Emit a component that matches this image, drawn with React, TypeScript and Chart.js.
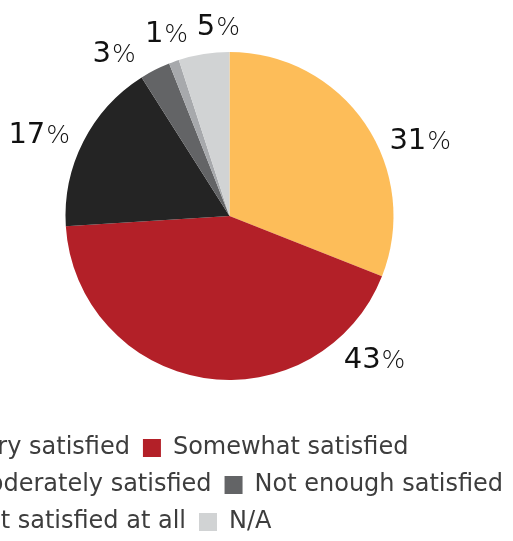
import React, { useEffect, useRef } from "react";
import { Chart, registerables } from "chart.js";

Chart.register(...registerables);

const categories = [
  "Very satisfied",
  "Somewhat satisfied",
  "Moderately satisfied",
  "Not enough satisfied",
  "Not satisfied at all",
  "N/A",
];
const percentages = [31, 43, 17, 3, 1, 5];
const sliceColors = ["#FDBD59", "#B32028", "#242424", "#636466", "#A7A9AC", "#D1D3D4"];

// label placement styling (shift from slice middle, in degrees; gap beyond the rim, px)
const labelAngleShiftDeg = [12.3, -54.4, -3.5, -8.4, 0.7, 5.5];
const labelGap = [41, 39, 44, 36, 30, 27];

const FONT = '"DejaVu Sans", sans-serif';

const pctLabels = {
  id: "pctLabels",
  afterDatasetsDraw(chart: any) {
    const ctx = chart.ctx;
    const meta = chart.getDatasetMeta(0);
    meta.data.forEach((arc: any, i: number) => {
      const { x, y, startAngle, endAngle, outerRadius } = arc.getProps(
        ["x", "y", "startAngle", "endAngle", "outerRadius"],
        true
      );
      const ang = (startAngle + endAngle) / 2 + (labelAngleShiftDeg[i] * Math.PI) / 180;
      const r = outerRadius + labelGap[i];
      const lx = x + Math.cos(ang) * r;
      const ly = y + Math.sin(ang) * r;
      const num = String(percentages[i]);
      ctx.save();
      ctx.textBaseline = "alphabetic";
      ctx.textAlign = "left";
      ctx.fillStyle = "#111111";
      const numFont = `400 29px ${FONT}`;
      const pctFont = `200 25px ${FONT}`;
      ctx.font = numFont;
      const w1 = ctx.measureText(num).width;
      ctx.font = pctFont;
      const w2 = ctx.measureText("%").width;
      const x0 = lx - (w1 + w2) / 2;
      const base = ly + 9.5;
      ctx.font = numFont;
      ctx.fillText(num, x0, base);
      ctx.font = pctFont;
      ctx.fillText("%", x0 + w1 + 1, base);
      ctx.restore();
    });
  },
};

export default function App() {
  const canvasRef = useRef<HTMLCanvasElement | null>(null);

  useEffect(() => {
    if (!canvasRef.current) return;
    const chart = new Chart(canvasRef.current, {
      type: "pie",
      data: {
        labels: categories,
        datasets: [
          {
            data: percentages,
            backgroundColor: sliceColors,
            borderWidth: 0,
            radius: 164,
          } as any,
        ],
      },
      options: {
        responsive: true,
        maintainAspectRatio: false,
        animation: false,
        layout: { padding: { top: 9, left: 0, right: 0, bottom: 0 } },
        plugins: {
          legend: {
            position: "bottom",
            align: "start",
            labels: {
              boxWidth: 18,
              boxHeight: 18,
              padding: 13,
              color: "#3d3d3d",
              font: { family: FONT, size: 24 },
            },
          },
          tooltip: { enabled: false },
        },
      },
      plugins: [pctLabels],
    });
    return () => chart.destroy();
  }, []);

  return (
    <div
      style={{
        position: "fixed",
        left: 0,
        top: 0,
        width: 513,
        height: 541,
        overflow: "hidden",
        background: "#ffffff",
      }}
    >
      <div style={{ position: "absolute", left: -75, top: 0, width: 609, height: 544 }}>
        <canvas ref={canvasRef} />
      </div>
    </div>
  );
}
